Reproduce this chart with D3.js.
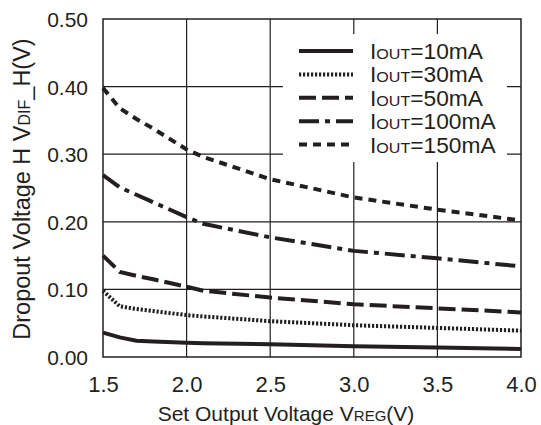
<!DOCTYPE html>
<html>
<head>
<meta charset="utf-8">
<script src="https://cdn.jsdelivr.net/npm/d3@7"></script>
<style>
  html, body { margin: 0; padding: 0; background: #fff; }
  svg { display: block; font-family: "Liberation Sans", Arial, sans-serif; }
</style>
</head>
<body>
<svg id="chart" width="541" height="425"></svg>
<script>
// ---- data ----
const vreg = [1.5, 1.6, 1.7, 1.8, 2.0, 2.1, 2.5, 3.0, 3.5, 4.0];
const iout10  = [0.036, 0.029, 0.024, 0.023, 0.021, 0.0205, 0.019, 0.016, 0.014, 0.012];
const iout30  = [0.098, 0.075, 0.071, 0.068, 0.062, 0.060, 0.053, 0.047, 0.043, 0.039];
const iout50  = [0.150, 0.126, 0.120, 0.115, 0.104, 0.098, 0.088, 0.078, 0.072, 0.066];
const iout100 = [0.269, 0.251, 0.240, 0.229, 0.207, 0.197, 0.177, 0.157, 0.146, 0.134];
const iout150 = [0.398, 0.368, 0.352, 0.338, 0.307, 0.296, 0.263, 0.236, 0.218, 0.202];
const seriesNames = ["10mA", "30mA", "50mA", "100mA", "150mA"];
const xTicks = [1.5, 2.0, 2.5, 3.0, 3.5, 4.0];
const yTicks = [0.0, 0.1, 0.2, 0.3, 0.4, 0.5];

// ---- styles ----
const dashes = ["none", "2.2,1.8", "17,6", "20,6,5,6", "8,6"];
const widths = [4, 4, 4, 4, 4];
const ink = "#231f20";

const svg = d3.select("#chart");
const L = 103, R = 521, T = 19, B = 357;
const x = d3.scaleLinear().domain([1.5, 4.0]).range([L, R]);
const y = d3.scaleLinear().domain([0, 0.5]).range([B, T]);

// grid
const g = svg.append("g");
g.selectAll(".vg").data(xTicks.slice(1, -1)).join("line")
  .attr("x1", d => x(d)).attr("x2", d => x(d)).attr("y1", T).attr("y2", B)
  .attr("stroke", ink).attr("stroke-width", 1.2);
g.selectAll(".hg").data(yTicks.slice(1, -1)).join("line")
  .attr("x1", L).attr("x2", R).attr("y1", d => y(d)).attr("y2", d => y(d))
  .attr("stroke", ink).attr("stroke-width", 1.2);

// legend background (covers grid)
svg.append("rect").attr("x", 283).attr("y", 34).attr("width", 224).attr("height", 128)
  .attr("fill", "#fff");

// series
const data = [iout10, iout30, iout50, iout100, iout150];
const line = d3.line().x(d => x(d[0])).y(d => y(d[1])).curve(d3.curveLinear);
data.forEach((vals, i) => {
  svg.append("path")
    .datum(vreg.map((v, k) => [v, vals[k]]))
    .attr("d", line)
    .attr("fill", "none")
    .attr("stroke", ink)
    .attr("stroke-width", widths[i])
    .attr("stroke-dasharray", dashes[i]);
});

// frame
svg.append("rect").attr("x", L).attr("y", T).attr("width", R - L).attr("height", B - T)
  .attr("fill", "none").attr("stroke", ink).attr("stroke-width", 1.5);

// axes (labels only)
const xAxis = d3.axisBottom(x).tickValues(xTicks).tickSize(0).tickPadding(0).tickFormat(d3.format(".1f"));
const gx = svg.append("g").attr("transform", `translate(0,${B})`).call(xAxis);
gx.select(".domain").remove();
gx.selectAll("text").attr("dy", null).attr("y", 35).attr("font-size", 22)
  .attr("fill", ink).attr("font-family", "Liberation Sans, Arial, sans-serif");

const yAxis = d3.axisLeft(y).tickValues(yTicks).tickSize(0).tickPadding(0).tickFormat(d3.format(".2f"));
const gy = svg.append("g").attr("transform", `translate(${L},0)`).call(yAxis);
gy.select(".domain").remove();
gy.selectAll("text").attr("x", -15).attr("dy", "0.36em").attr("font-size", 21)
  .attr("fill", ink).attr("font-family", "Liberation Sans, Arial, sans-serif");

// x title
const xt = svg.append("text").attr("x", 286).attr("y", 421).attr("text-anchor", "middle")
  .attr("font-size", 21).attr("fill", ink);
xt.append("tspan").text("Set Output Voltage V");
xt.append("tspan").attr("font-size", 15).text("REG");
xt.append("tspan").text("(V)");

// y title
const yt = svg.append("text").attr("transform", "translate(30,189) rotate(-90)")
  .attr("text-anchor", "middle").attr("font-size", 23.5).attr("fill", ink);
yt.append("tspan").text("Dropout Voltage H V");
yt.append("tspan").attr("font-size", 16).text("DIF");
yt.append("tspan").text("_H(V)");

// legend
const lg = svg.append("g");
seriesNames.forEach((name, i) => {
  const cy = 51 + i * 23.4;
  lg.append("line").attr("x1", 299).attr("x2", 353).attr("y1", cy).attr("y2", cy)
    .attr("stroke", ink).attr("stroke-width", widths[i]).attr("stroke-dasharray", dashes[i]);
  const t = lg.append("text")
    .attr("transform", `translate(370,${cy + 8}) scale(1.11,1.05)`)
    .attr("font-size", 20.5).attr("fill", ink);
  t.append("tspan").text("I");
  t.append("tspan").attr("font-size", 14.5).text("OUT");
  t.append("tspan").text("=" + name);
});
</script>
</body>
</html>
